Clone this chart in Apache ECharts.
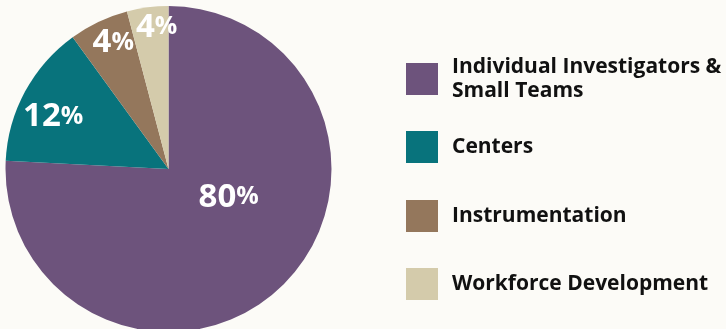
<!DOCTYPE html>
<html>
<head>
<meta charset="utf-8">
<script src="https://cdn.jsdelivr.net/npm/echarts@6/dist/echarts.min.js"></script>
<style>
html,body{margin:0;padding:0;background:#fcfbf7;}
#c{width:726px;height:329px;}
</style>
</head>
<body>
<div id="c"></div>
<script>
const categories = ['Individual Investigators &\nSmall Teams', 'Centers', 'Instrumentation', 'Workforce Development'];
const sliceValues = [75.8, 14.2, 5.9, 4.1];
const labelNumbers = ['80', '12', '4', '4'];
const colors = ['#6d537c', '#08737c', '#94775c', '#d4cbab'];

const labelShift = [[2, -33], [-41, -12], [-19, -50], [-1, -58]];
const legendTops = [46, 126, 195, 263];
const legendPadTop = [8, 0, 0, 0];

const chart = echarts.init(document.getElementById('c'), null, {renderer: 'canvas'});

const legends = categories.map((name, i) => ({
  data: [name],
  left: 401,
  top: legendTops[i],
  orient: 'vertical',
  itemWidth: 32,
  itemHeight: 32,
  itemGap: 0,
  icon: 'rect',
  selectedMode: false,
  textStyle: {
    fontFamily: 'Open Sans',
    fontWeight: 'bold',
    fontSize: 21,
    color: '#111111',
    lineHeight: 24,
    padding: [legendPadTop[i], 0, 0, 9]
  }
}));

chart.setOption({
  backgroundColor: '#fcfbf7',
  animation: false,
  legend: legends,
  series: [{
    type: 'pie',
    center: [168.5, 169],
    radius: [0, 163],
    startAngle: 90,
    clockwise: true,
    avoidLabelOverlap: false,
    itemStyle: {borderWidth: 0},
    label: {
      show: true,
      position: 'inside',
      formatter: p => '{n|' + labelNumbers[p.dataIndex] + '}{p|%}',
      rich: {
        n: {fontFamily: 'Open Sans', fontWeight: 'bold', fontSize: 33, color: '#ffffff'},
        p: {fontFamily: 'Open Sans', fontWeight: 'bold', fontSize: 25, color: '#ffffff'}
      }
    },
    labelLine: {show: false},
    labelLayout: p => ({dx: labelShift[p.dataIndex][0], dy: labelShift[p.dataIndex][1]}),
    emphasis: {disabled: true},
    data: categories.map((name, i) => ({name: name, value: sliceValues[i], itemStyle: {color: colors[i]}}))
  }]
});
</script>
</body>
</html>
